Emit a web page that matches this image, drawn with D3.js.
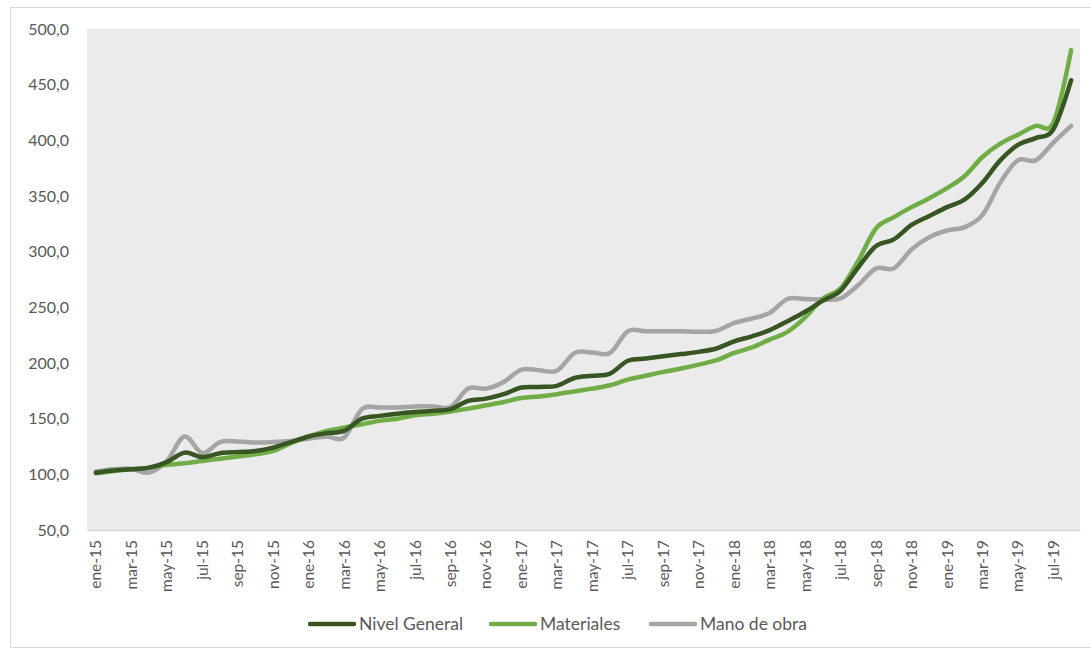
<!DOCTYPE html>
<html lang="es">
<head>
<meta charset="utf-8">
<script src="https://cdn.jsdelivr.net/npm/d3@7"></script>
<style>
  html, body { margin: 0; padding: 0; background: #ffffff; }
  svg { display: block; }
  text { font-family: Lato, "Open Sans", "Noto Sans", sans-serif; fill: #595959; }
</style>
</head>
<body>
<svg id="chart" width="1091" height="650"></svg>
<script>
// Meses (ene-15 .. ago-19)
const months = [
  "ene-15","feb-15","mar-15","abr-15","may-15","jun-15","jul-15","ago-15","sep-15","oct-15","nov-15","dic-15",
  "ene-16","feb-16","mar-16","abr-16","may-16","jun-16","jul-16","ago-16","sep-16","oct-16","nov-16","dic-16",
  "ene-17","feb-17","mar-17","abr-17","may-17","jun-17","jul-17","ago-17","sep-17","oct-17","nov-17","dic-17",
  "ene-18","feb-18","mar-18","abr-18","may-18","jun-18","jul-18","ago-18","sep-18","oct-18","nov-18","dic-18",
  "ene-19","feb-19","mar-19","abr-19","may-19","jun-19","jul-19","ago-19"
];

// Índices (base ene-15 ≈ 100)
const nivelGeneral = [
  101.5,103.5,104.5,106,111,119.5,115.5,119,120,121,124,129,
  134,137,139,150,152.5,154.5,156,157,158.5,166,168,172,
  178,178.5,179.5,186.5,188.5,190.5,202,204,206,208,210,213,
  219.5,224,229.5,237.5,246,256,265,286,305,311,324,332,
  340,347,362,382,396,402,410,454
];
const materiales = [
  101,103,104.5,106,108.5,110,112,114,116,118,121,128,
  134,139,142,145,148,150,153,154.5,156.5,159,162,165,
  168.5,170,172,174.5,177,180,185,188.5,192,195,198.5,202.5,
  209,214,221,228,241,258,267,292,321,331,340,348,
  357,368,385,397,405,413,416,481
];
const manoDeObra = [
  102.5,104.5,105,101.5,112,134,119,129,129.5,128.5,129,130,
  132,134,133,158.5,160,160,161,161,160.5,177,177,183,
  194,193.5,193,209,209.5,209,228.5,228.5,228.5,228.5,228,229,
  236,240,245,257.5,257.5,257,258,270,285,285,302,313,
  319,322,333,362,382,382,398,413
];

const yTicks = [50,100,150,200,250,300,350,400,450,500];
const seriesNames = ["Nivel General","Materiales","Mano de obra"];
const seriesColors = ["#375623","#70ad47","#a5a5a5"];
const seriesValues = [nivelGeneral, materiales, manoDeObra];

const svg = d3.select("#chart");

// Chart frame
svg.append("rect")
  .attr("x", 10.5).attr("y", 7.5)
  .attr("width", 1090).attr("height", 640)
  .attr("fill", "#ffffff")
  .attr("stroke", "#d9d9d9").attr("stroke-width", 1);

const plot = { left: 87, right: 1080, top: 29, bottom: 530 };

const x = d3.scaleBand()
  .domain(months)
  .range([plot.left, plot.right])
  .paddingInner(0).paddingOuter(0);

const y = d3.scaleLinear()
  .domain([50, 500])
  .range([plot.bottom, plot.top]);

// Plot area background
svg.append("rect")
  .attr("x", plot.left).attr("y", plot.top)
  .attr("width", plot.right - plot.left)
  .attr("height", plot.bottom - plot.top)
  .attr("fill", "#ebebeb");

// Y axis (labels only)
const yAxis = d3.axisLeft(y)
  .tickValues(yTicks)
  .tickSize(0)
  .tickPadding(0)
  .tickFormat(d => d3.format(".1f")(d).replace(".", ","));
const gy = svg.append("g")
  .attr("transform", `translate(${plot.left - 18},0)`)
  .call(yAxis);
gy.select(".domain").remove();
gy.selectAll("text")
  .attr("font-size", 16)
  .attr("fill", "#595959")
  .style("font-family", 'Lato, "Open Sans", sans-serif');

// X axis: line + rotated labels every two months
const xAxis = d3.axisBottom(x)
  .tickValues(months.filter((m, i) => i % 2 === 0))
  .tickSize(0)
  .tickPadding(0);
const gx = svg.append("g")
  .attr("transform", `translate(0,${plot.bottom})`)
  .call(xAxis);
gx.select(".domain")
  .attr("stroke", "#d9d9d9")
  .attr("stroke-width", 1.5);
gx.selectAll("text")
  .attr("font-size", 15.5)
  .attr("fill", "#595959")
  .style("font-family", 'Lato, "Open Sans", sans-serif')
  .attr("text-anchor", "end")
  .attr("dy", null)
  .attr("transform", "translate(5.5,10) rotate(-90)")
  .attr("x", 0).attr("y", 0);

// Lines
const line = d3.line()
  .x((d, i) => x(months[i]) + x.bandwidth() / 2)
  .y(d => y(d))
  .curve(d3.curveCatmullRom.alpha(0));

const drawOrder = [2, 1, 0];
drawOrder.forEach(k => {
  svg.append("path")
    .datum(seriesValues[k])
    .attr("d", line)
    .attr("fill", "none")
    .attr("stroke", seriesColors[k])
    .attr("stroke-width", 4.5)
    .attr("stroke-linecap", "round")
    .attr("stroke-linejoin", "round");
});

// Legend
const legendX = [310, 491, 651];
const legend = svg.append("g");
seriesNames.forEach((name, k) => {
  const g = legend.append("g").attr("transform", `translate(${legendX[k]},624)`);
  g.append("line")
    .attr("x1", 0).attr("x2", 44)
    .attr("y1", 0).attr("y2", 0)
    .attr("stroke", seriesColors[k])
    .attr("stroke-width", 4.5)
    .attr("stroke-linecap", "round");
  g.append("text")
    .attr("x", 49).attr("y", 0)
    .attr("dy", "0.35em")
    .attr("font-size", 17.5)
    .text(name);
});
</script>
</body>
</html>
